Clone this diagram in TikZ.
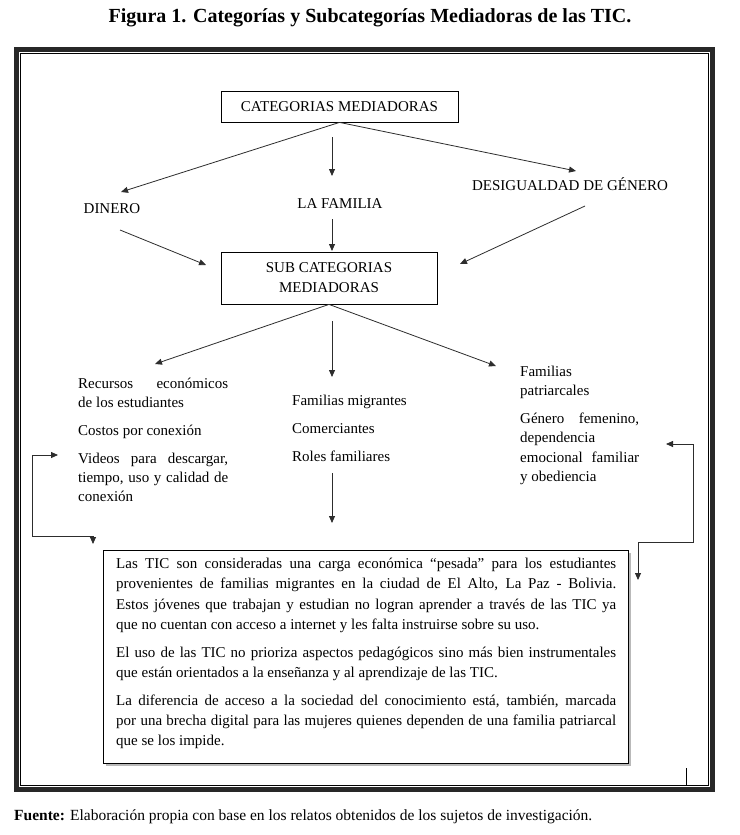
\documentclass[tikz,border=0pt]{standalone}
\usepackage{fontspec}
\setmainfont{Liberation Serif}
\usetikzlibrary{arrows.meta}
\definecolor{linegray}{RGB}{45,45,45}
\definecolor{framegray}{RGB}{40,40,40}
\definecolor{shadowgray}{RGB}{185,185,185}
\begin{document}
\begin{tikzpicture}[x=1pt,y=-1pt,
  txt/.style={font=\fontsize{15}{18}\selectfont, inner sep=0pt, anchor=base west},
  ctxt/.style={font=\fontsize{15}{18}\selectfont, inner sep=0pt, anchor=base},
  arr/.style={draw=linegray, line width=0.8pt, -{Triangle[length=7pt,width=6pt]}},
  darr/.style={draw=linegray, line width=0.8pt, {Triangle[length=7pt,width=6pt]}-{Triangle[length=7pt,width=6pt]}},
  catbox/.style={draw=black, line width=0.8pt, inner sep=0pt, font=\fontsize{15}{20}\selectfont, align=center}
]
\useasboundingbox (0,0) rectangle (739,835);
\fill[white] (0,0) rectangle (739,835);

% title
\node[anchor=base, inner sep=0pt, font=\fontsize{20}{24}\selectfont\bfseries] (title) at (370,22) {Figura 1. Categorías y Subcategorías Mediadoras de las TIC.};

% frame
\draw[framegray, line width=5pt] (16.5,49.5) rectangle (712.5,789.5);
\draw[black, line width=1pt] (20.5,53.5) rectangle (708.5,785.5);
\coordinate (tk1) at (686,768);
\coordinate (tk2) at (686,785);
\draw[black, line width=0.8pt] (tk1) -- (tk2);

% top level
\node[catbox, minimum width=237pt, minimum height=31pt] (cat) at (339.5,106.5) {CATEGORIAS MEDIADORAS};
\node[ctxt] (din) at (112,213) {DINERO};
\node[ctxt] (fam) at (340,208) {LA FAMILIA};
\node[ctxt] (des) at (570,190) {DESIGUALDAD DE GÉNERO};

\coordinate (t1) at (121,192);
\coordinate (t3) at (576,171);
\coordinate (m1a) at (332,137);
\coordinate (m1b) at (332,176);
\draw[arr] (cat.south) -- (t1);
\draw[arr] (m1a) -- (m1b);
\draw[arr] (cat.south) -- (t3);

% sub box
\node[catbox, minimum width=216pt, minimum height=52pt] (sub) at (329,278) {SUB CATEGORIAS\\MEDIADORAS};

\coordinate (l1a) at (120,230);
\coordinate (l1b) at (206,265);
\coordinate (m2a) at (332,219);
\coordinate (m2b) at (332,251);
\coordinate (r1a) at (585,206);
\coordinate (r1b) at (460,264);
\draw[arr] (l1a) -- (l1b);
\draw[arr] (m2a) -- (m2b);
\draw[arr] (r1a) -- (r1b);

\coordinate (s1) at (155,364);
\coordinate (s3) at (496,366);
\coordinate (m3a) at (332,321);
\coordinate (m3b) at (332,377);
\draw[arr] (sub.south) -- (s1);
\draw[arr] (m3a) -- (m3b);
\draw[arr] (sub.south) -- (s3);

% left column
\node[txt] (lc1) at (78,388) {\makebox[150pt][s]{Recursos económicos}};
\node[txt] (lc2) at (78,407) {de los estudiantes};
\node[txt] (lc3) at (78,435) {Costos por conexión};
\node[txt] (lc4) at (78,463) {\makebox[150pt][s]{Videos para descargar,}};
\node[txt] (lc5) at (78,482) {\makebox[150pt][s]{tiempo, uso y calidad de}};
\node[txt] (lc6) at (78,501) {conexión};

% middle column
\node[txt] (mc1) at (292,405) {Familias migrantes};
\node[txt] (mc2) at (292,433) {Comerciantes};
\node[txt] (mc3) at (292,461) {Roles familiares};
\coordinate (m4a) at (332,473);
\coordinate (m4b) at (332,523);
\draw[arr] (m4a) -- (m4b);

% right column
\node[txt] (rc1) at (520,376) {Familias};
\node[txt] (rc2) at (520,395) {patriarcales};
\node[txt] (rc3) at (520,423) {\makebox[119pt][s]{Género femenino,}};
\node[txt] (rc4) at (520,442) {dependencia};
\node[txt] (rc5) at (520,462) {\makebox[119pt][s]{emocional familiar}};
\node[txt] (rc6) at (520,481) {y obediencia};

% conclusion box
\fill[shadowgray] (105.5,552.5) rectangle (630.5,765.5);
\node[draw=black, fill=white, line width=0.8pt, inner sep=0pt, minimum width=525pt, minimum height=213pt] (texto) at (365.5,656.5) {};

\node[txt] (b1) at (116,568) {\makebox[500pt][s]{Las TIC son consideradas una carga económica “pesada” para los estudiantes}};
\node[txt] (b2) at (116,588) {\makebox[500pt][s]{provenientes de familias migrantes en la ciudad de El Alto, La Paz - Bolivia.}};
\node[txt] (b3) at (116,609) {\makebox[500pt][s]{Estos jóvenes que trabajan y estudian no logran aprender a través de las TIC ya}};
\node[txt] (b4) at (116,629) {que no cuentan con acceso a internet y les falta instruirse sobre su uso.};
\node[txt] (b5) at (116,657) {\makebox[500pt][s]{El uso de las TIC no prioriza aspectos pedagógicos sino más bien instrumentales}};
\node[txt] (b6) at (116,677) {que están orientados a la enseñanza y al aprendizaje de las TIC.};
\node[txt] (b7) at (116,705) {\makebox[500pt][s]{La diferencia de acceso a la sociedad del conocimiento está, también, marcada}};
\node[txt] (b8) at (116,725) {\makebox[500pt][s]{por una brecha digital para las mujeres quienes dependen de una familia patriarcal}};
\node[txt] (b9) at (116,745) {que se los impide.};

% elbow connectors
\coordinate (eL1) at (58,455);
\coordinate (eL2) at (32,455);
\coordinate (eL3) at (32,536);
\coordinate (eL4) at (93,536);
\coordinate (eL5) at (93,544);
\draw[darr] (eL1) -- (eL2) -- (eL3) -- (eL4) -- (eL5);

\coordinate (eR1) at (666,444);
\coordinate (eR2) at (693,444);
\coordinate (eR3) at (693,542);
\coordinate (eR4) at (638,542);
\coordinate (eR5) at (638,580);
\draw[darr] (eR1) -- (eR2) -- (eR3) -- (eR4) -- (eR5);

% source
\node[anchor=base west, inner sep=0pt, font=\fontsize{15.5}{18}\selectfont] (fuente) at (14,820) {\textbf{Fuente:} Elaboración propia con base en los relatos obtenidos de los sujetos de investigación.};
\end{tikzpicture}
\end{document}
